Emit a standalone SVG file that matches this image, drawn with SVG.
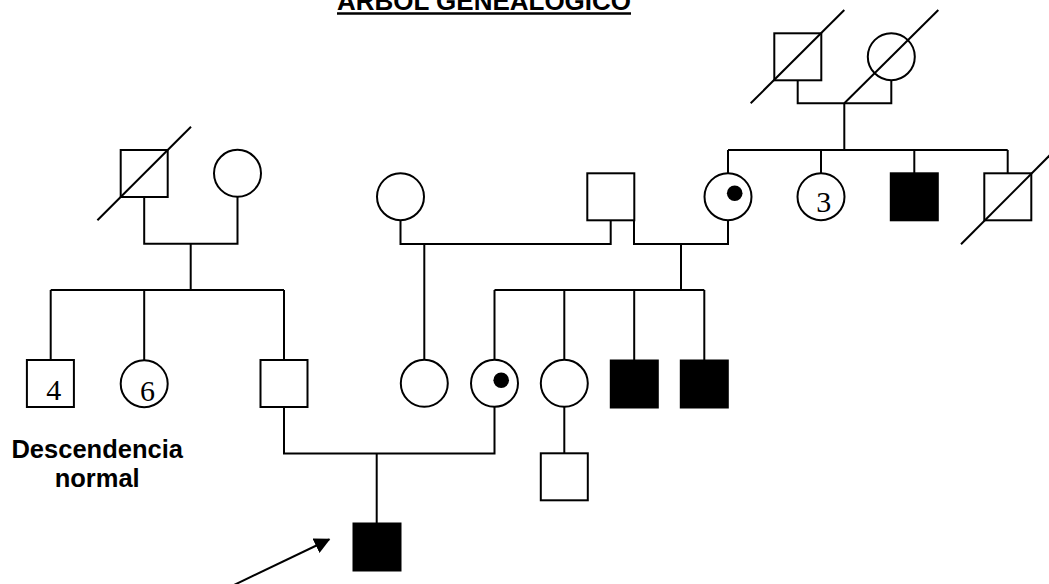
<svg xmlns="http://www.w3.org/2000/svg" width="1049" height="584" viewBox="0 0 1049 584">
<style>
.s{fill:#fff;stroke:#000;stroke-width:2}
.a{fill:#000;stroke:#000;stroke-width:2}
.l{fill:none;stroke:#000;stroke-width:2}
.n{font-family:"Liberation Serif",serif;font-size:30px;fill:#000;text-anchor:middle}
.b{font-family:"Liberation Sans",Arial,sans-serif;font-weight:bold;fill:#000;text-anchor:middle}
</style>
<defs>
<marker id="ah" viewBox="0 0 10 10" refX="9" refY="5" markerWidth="16" markerHeight="16" markerUnits="userSpaceOnUse" orient="auto">
<path d="M0,0 L10,5 L0,10 z" fill="#000"/>
</marker>
</defs>
<rect width="1049" height="584" fill="#fff"/>
<g id="title">
<text class="b" x="484" y="10" font-size="26" textLength="294" lengthAdjust="spacingAndGlyphs">ARBOL GENEALOGICO</text>
<line x1="337" y1="13.5" x2="631" y2="13.5" stroke="#000" stroke-width="2.5"/>
</g>
<g id="connectors" class="l">
<polyline points="797.7,80 797.7,103.3 891.3,103.3 891.3,80"/>
<line x1="844.3" y1="103.3" x2="844.3" y2="150"/>
<line x1="728" y1="150" x2="1007.7" y2="150"/>
<line x1="728" y1="150" x2="728" y2="173.3"/>
<line x1="821" y1="150" x2="821" y2="173.3"/>
<line x1="914.3" y1="150" x2="914.3" y2="173.3"/>
<line x1="1007.7" y1="150" x2="1007.7" y2="173.3"/>
<polyline points="144.2,196.7 144.2,243.7 237.5,243.7 237.5,196.8"/>
<line x1="190.7" y1="243.7" x2="190.7" y2="290"/>
<line x1="50.7" y1="290" x2="284" y2="290"/>
<line x1="50.7" y1="290" x2="50.7" y2="360"/>
<line x1="144.2" y1="290" x2="144.2" y2="360"/>
<line x1="284" y1="290" x2="284" y2="360"/>
<polyline points="400.5,220.4 400.5,244 610.7,244 610.7,220.3"/>
<line x1="424.3" y1="244" x2="424.3" y2="359.8"/>
<polyline points="634,220.3 634,244 728,244 728,220.4"/>
<line x1="681" y1="244" x2="681" y2="290"/>
<line x1="494.5" y1="290" x2="704.3" y2="290"/>
<line x1="494.5" y1="290" x2="494.5" y2="359.8"/>
<line x1="564.3" y1="290" x2="564.3" y2="359.8"/>
<line x1="634.2" y1="290" x2="634.2" y2="360"/>
<line x1="704.3" y1="290" x2="704.3" y2="360"/>
<polyline points="284,407.3 284,453.5 494.5,453.5 494.5,406.8"/>
<line x1="376.7" y1="453.5" x2="376.7" y2="523.3"/>
<line x1="564.3" y1="406.8" x2="564.3" y2="453.3"/>
<line x1="234" y1="585" x2="329" y2="539.5" marker-end="url(#ah)"/>
</g>
<g id="gp-male"><rect class="s" x="774.3" y="33.3" width="47" height="47"/><line class="l" x1="750.7" y1="103.3" x2="844.3" y2="10"/></g>
<g id="gp-female"><circle class="s" cx="891.3" cy="56.7" r="23.5"/><line class="l" x1="844.3" y1="103.3" x2="938.3" y2="10"/></g>
<g id="gl-male"><rect class="s" x="120.7" y="150" width="47" height="47"/><line class="l" x1="97.4" y1="220.3" x2="191" y2="126.7"/></g>
<g id="gl-female"><circle class="s" cx="237.5" cy="173.3" r="23.5"/></g>
<g id="p-female"><circle class="s" cx="400.5" cy="196.7" r="23.5"/></g>
<g id="p-male"><rect class="s" x="587.3" y="173.3" width="47" height="47"/></g>
<g id="p-carrier"><circle class="s" cx="728" cy="196.7" r="23.5"/><circle cx="734.7" cy="193.2" r="7.8" fill="#000"/></g>
<g id="aunt3"><circle class="s" cx="821" cy="196.7" r="23.5"/><text class="n" x="823.7" y="211.7">3</text></g>
<g id="uncle-affected"><rect class="a" x="890.8" y="173.3" width="47" height="47"/></g>
<g id="uncle-deceased"><rect class="s" x="984.3" y="173.3" width="47" height="47"/><line class="l" x1="961" y1="244.3" x2="1055" y2="150"/></g>
<g id="sib4"><rect class="s" x="26.9" y="360" width="47" height="47"/><text class="n" x="53.8" y="400">4</text></g>
<g id="sib6"><circle class="s" cx="144.2" cy="383.7" r="23.5"/><text class="n" x="147.5" y="400.5">6</text></g>
<g id="father"><rect class="s" x="260.5" y="360" width="47" height="47"/></g>
<g id="half-sister"><circle class="s" cx="424.3" cy="383.3" r="23.5"/></g>
<g id="mother-carrier"><circle class="s" cx="494.5" cy="383.3" r="23.5"/><circle cx="501.2" cy="380.3" r="7.8" fill="#000"/></g>
<g id="aunt"><circle class="s" cx="564.3" cy="383.3" r="23.5"/></g>
<g id="uncle-a1"><rect class="a" x="610.8" y="360.5" width="47" height="47"/></g>
<g id="uncle-a2"><rect class="a" x="680.8" y="360.5" width="47" height="47"/></g>
<g id="cousin"><rect class="s" x="540.8" y="453.3" width="47" height="47"/></g>
<g id="proband"><rect class="a" x="353.5" y="523.5" width="47" height="47"/></g>
<g id="legend">
<text class="b" font-size="25.5" x="97.2" y="457.7">Descendencia</text>
<text class="b" font-size="25.5" x="97.2" y="486.7">normal</text>
</g>
</svg>
